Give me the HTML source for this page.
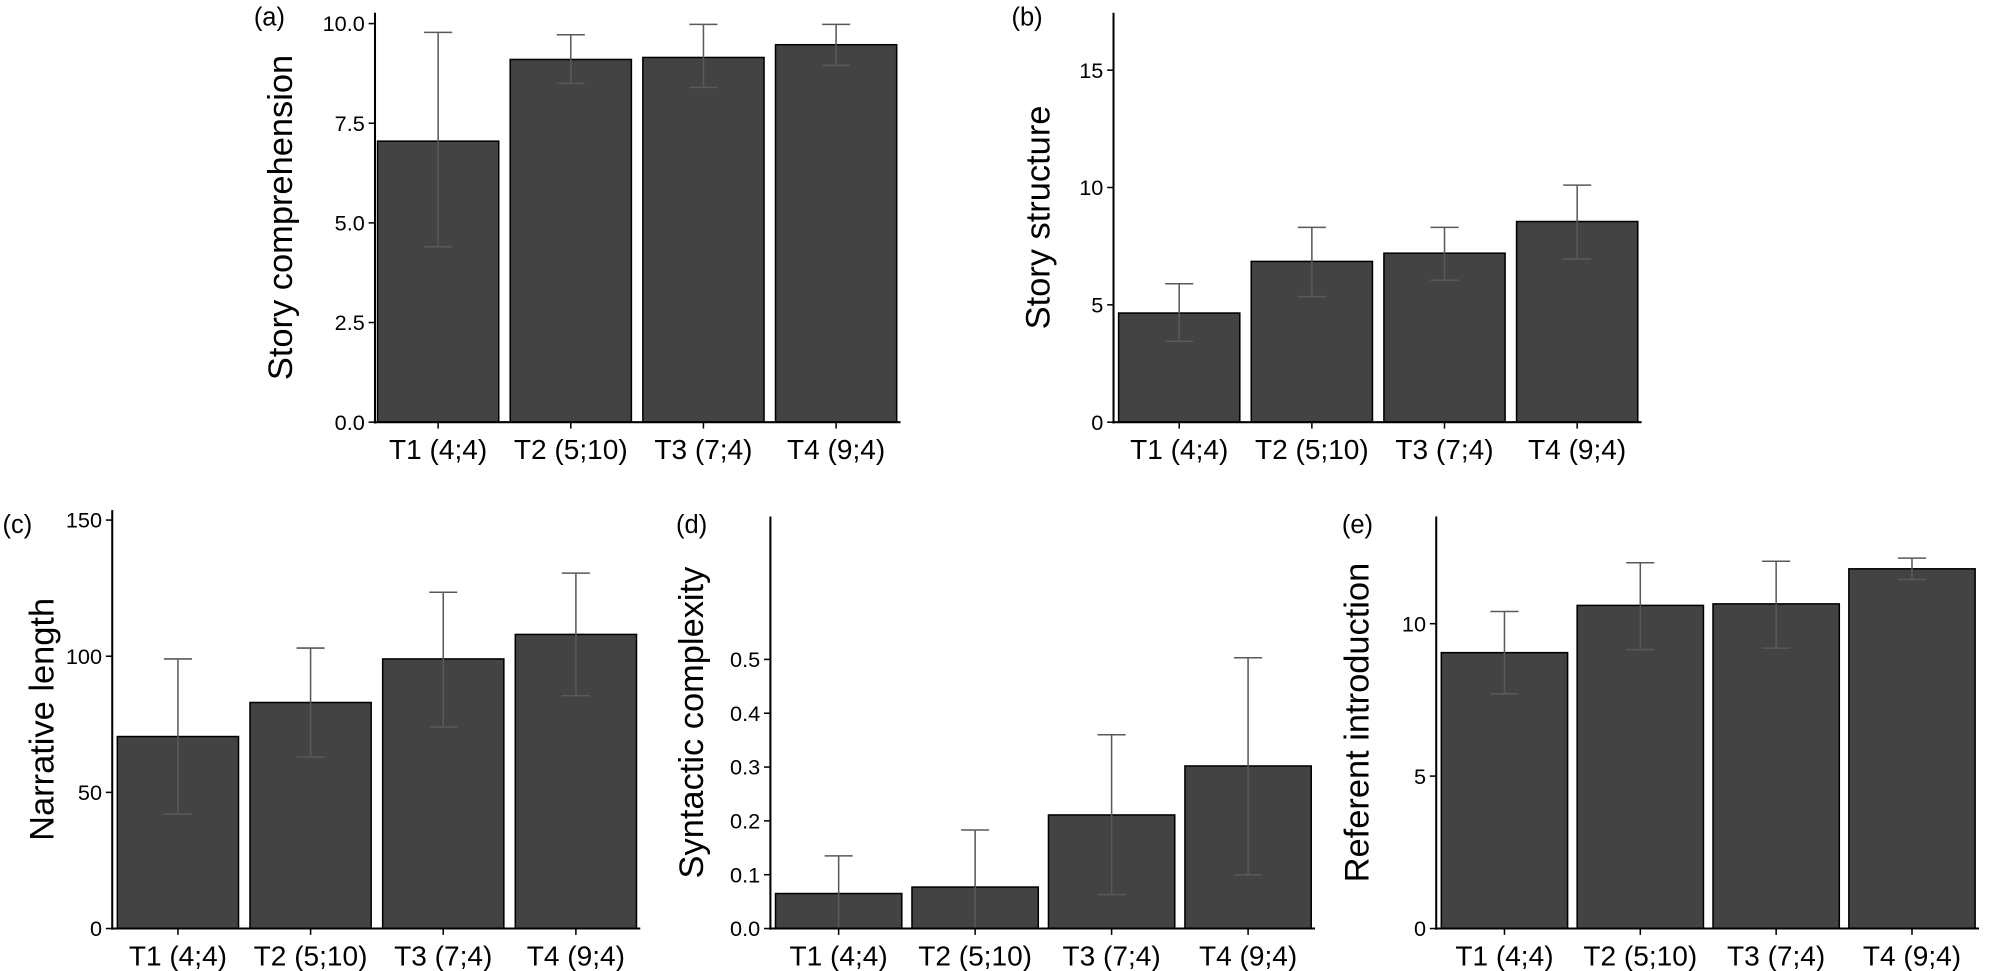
<!DOCTYPE html>
<html><head><meta charset="utf-8">
<style>
body{margin:0;background:#fff;}
svg{display:block;font-family:"Liberation Sans",Arial,sans-serif;}
</style></head>
<body>
<svg id="chart" width="2000" height="971" viewBox="0 0 1568 761.3" preserveAspectRatio="none" xmlns="http://www.w3.org/2000/svg"></svg>
<script>
const categories = ["T1 (4;4)","T2 (5;10)","T3 (7;4)","T4 (9;4)"];
const storyComprehension = [7.05, 9.1, 9.15, 9.47];
const storyComprehensionLow = [4.4, 8.5, 8.4, 8.95];
const storyComprehensionHigh = [9.78, 9.72, 9.98, 9.98];
const storyComprehensionTicks = [0, 2.5, 5, 7.5, 10];
const storyStructure = [4.65, 6.85, 7.2, 8.55];
const storyStructureLow = [3.45, 5.35, 6.05, 6.95];
const storyStructureHigh = [5.9, 8.3, 8.3, 10.1];
const storyStructureTicks = [0, 5, 10, 15];
const narrativeLength = [70.5, 83, 99, 108];
const narrativeLengthLow = [42, 63, 74, 85.5];
const narrativeLengthHigh = [99, 103, 123.5, 130.5];
const narrativeLengthTicks = [0, 50, 100, 150];
const syntacticComplexity = [0.065, 0.077, 0.211, 0.302];
const syntacticComplexityLow = [0, 0, 0.063, 0.1];
const syntacticComplexityHigh = [0.135, 0.183, 0.36, 0.503];
const syntacticComplexityTicks = [0, 0.1, 0.2, 0.3, 0.4, 0.5];
const referentIntro = [9.05, 10.6, 10.65, 11.8];
const referentIntroLow = [7.7, 9.15, 9.2, 11.45];
const referentIntroHigh = [10.4, 12.0, 12.05, 12.15];
const referentIntroTicks = [0, 5, 10];

const NS = "http://www.w3.org/2000/svg";
const svg = document.getElementById("chart");
function mk(tag, attrs, parent){
  const e = document.createElementNS(NS, tag);
  for (const k in attrs) e.setAttribute(k, attrs[k]);
  (parent||svg).appendChild(e);
  return e;
}
function panel(cfg){
  const g = mk("g", {});
  
  
  const y = v => cfg.y0 - v * cfg.ppu;
  const barX = i => cfg.bx0 + i * (cfg.bw + cfg.gap);
  cfg.vals.forEach((v, i) => {
    const r = mk("rect", {x: barX(i), y: y(v), width: cfg.bw, height: cfg.y0 - y(v), fill: "#434343", stroke: "#000", "stroke-width": 1.2}, g);
    
    
  });
  cfg.vals.forEach((v, i) => {
    const cx = barX(i) + cfg.bw / 2;
    const eg = mk("g", {stroke: "#595959", "stroke-width": 1.2}, g);
    
    
    mk("line", {x1: cx, x2: cx, y1: y(cfg.lo[i]), y2: y(cfg.hi[i])}, eg);
    mk("line", {x1: cx - 11, x2: cx + 11, y1: y(cfg.hi[i]), y2: y(cfg.hi[i])}, eg);
    mk("line", {x1: cx - 11, x2: cx + 11, y1: y(cfg.lo[i]), y2: y(cfg.lo[i])}, eg);
  });
  const ya = mk("line", {x1: cfg.ax, x2: cfg.ax, y1: cfg.top, y2: cfg.y0 + 1, stroke: "#000", "stroke-width": 1.6}, g);
  
  
  const xa = mk("line", {x1: cfg.ax - 1, x2: barX(3) + cfg.bw + 3, y1: cfg.y0, y2: cfg.y0, stroke: "#000", "stroke-width": 1.6}, g);
  
  
  cfg.ticks.forEach(t => {
    mk("line", {x1: cfg.ax - 5, x2: cfg.ax, y1: y(t), y2: y(t), stroke: "#000", "stroke-width": 1.2}, g);
    const tx = mk("text", {x: cfg.ax - 8, y: y(t) + 6, "text-anchor": "end", "font-size": 17, fill: "#000"}, g);
    tx.textContent = cfg.fmt(t);
    
    
  });
  categories.forEach((c, i) => {
    const cx = barX(i) + cfg.bw / 2;
    mk("line", {x1: cx, x2: cx, y1: cfg.y0, y2: cfg.y0 + 5, stroke: "#000", "stroke-width": 1.2}, g);
    const tx = mk("text", {x: cx, y: cfg.y0 + 29, "text-anchor": "middle", "font-size": 22, fill: "#000"}, g);
    tx.textContent = c;
    
    
  });
  const mid = (cfg.top + cfg.y0) / 2;
  const tt = mk("text", {x: cfg.titleX, y: mid, "text-anchor": "middle", "font-size": 27, fill: "#000", transform: `rotate(-90 ${cfg.titleX} ${mid})`}, g);
  tt.textContent = cfg.title;
  
  
  const pl = mk("text", {x: cfg.plx, y: cfg.ply, "font-size": 20, fill: "#000"}, g);
  pl.textContent = cfg.label;
  
  
}
panel({name:"panel-a", key:"a", label:"(a)", plx:199, ply:20, title:"Story comprehension", titleX:229,
  vals:storyComprehension, lo:storyComprehensionLow, hi:storyComprehensionHigh, ticks:storyComprehensionTicks,
  fmt:t=>t.toFixed(1), ax:294, y0:331, ppu:31.25, top:10, bx0:296, bw:95, gap:9});
panel({name:"panel-b", key:"b", label:"(b)", plx:793, ply:20, title:"Story structure", titleX:823,
  vals:storyStructure, lo:storyStructureLow, hi:storyStructureHigh, ticks:storyStructureTicks,
  fmt:t=>String(t), ax:873, y0:331, ppu:18.4, top:10, bx0:877, bw:95, gap:9});
panel({name:"panel-c", key:"c", label:"(c)", plx:2, ply:418, title:"Narrative length", titleX:42,
  vals:narrativeLength, lo:narrativeLengthLow, hi:narrativeLengthHigh, ticks:narrativeLengthTicks,
  fmt:t=>String(t), ax:88, y0:728, ppu:2.135, top:400, bx0:92, bw:95, gap:9});
panel({name:"panel-d", key:"d", label:"(d)", plx:530, ply:418, title:"Syntactic complexity", titleX:551,
  vals:syntacticComplexity, lo:syntacticComplexityLow, hi:syntacticComplexityHigh, ticks:syntacticComplexityTicks,
  fmt:t=>t.toFixed(1), ax:604, y0:728, ppu:422, top:405, bx0:608, bw:99, gap:8});
panel({name:"panel-e", key:"e", label:"(e)", plx:1052, ply:418, title:"Referent introduction", titleX:1073,
  vals:referentIntro, lo:referentIntroLow, hi:referentIntroHigh, ticks:referentIntroTicks,
  fmt:t=>String(t), ax:1126, y0:728, ppu:23.9, top:405, bx0:1130, bw:99, gap:7.5});
</script>
</body></html>
